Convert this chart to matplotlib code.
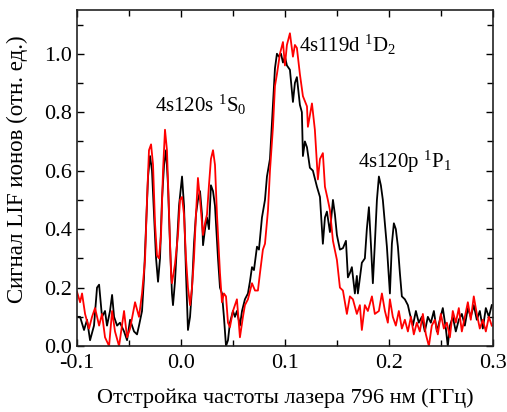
import numpy as np
import matplotlib
matplotlib.use('Agg')
import matplotlib.pyplot as plt
from matplotlib.ticker import MultipleLocator, FormatStrFormatter

plt.rcParams['font.family'] = ['Liberation Serif', 'DejaVu Serif']
plt.rcParams['mathtext.fontset'] = 'custom'
plt.rcParams['mathtext.rm'] = 'Liberation Serif'
plt.rcParams['mathtext.default'] = 'rm'
plt.rcParams['axes.unicode_minus'] = False

# (detuning GHz, LIF signal) - black trace
black = [
    (-0.1000, 0.10), (-0.0971, 0.10), (-0.0933, 0.055), (-0.0904, 0.09), (-0.0875, 0.02),
    (-0.0837, 0.07), (-0.0808, 0.20), (-0.0788, 0.21), (-0.0760, 0.10), (-0.0731, 0.12),
    (-0.0712, 0.07), (-0.0683, 0.12), (-0.0663, 0.175), (-0.0644, 0.10), (-0.0615, 0.07),
    (-0.0587, 0.08), (-0.0548, 0.05), (-0.0519, 0.02), (-0.0490, 0.09), (-0.0452, 0.05),
    (-0.0423, 0.04), (-0.0404, 0.07), (-0.0375, 0.12), (-0.0356, 0.235), (-0.0337, 0.40),
    (-0.0317, 0.58), (-0.0298, 0.65), (-0.0279, 0.60), (-0.0260, 0.45), (-0.0240, 0.30),
    (-0.0221, 0.22), (-0.0202, 0.30), (-0.0183, 0.50), (-0.0163, 0.62), (-0.0144, 0.67),
    (-0.0125, 0.55), (-0.0106, 0.35), (-0.0087, 0.18), (-0.0077, 0.14), (-0.0058, 0.22),
    (-0.0038, 0.35), (-0.0019, 0.48), (0.0010, 0.58), (0.0029, 0.48), (0.0048, 0.25),
    (0.0067, 0.055), (0.0087, 0.10), (0.0106, 0.20), (0.0125, 0.35), (0.0144, 0.45),
    (0.0163, 0.50), (0.0183, 0.53), (0.0202, 0.45), (0.0212, 0.345), (0.0231, 0.40),
    (0.0250, 0.44), (0.0269, 0.40), (0.0288, 0.55), (0.0308, 0.53), (0.0327, 0.48),
    (0.0356, 0.30), (0.0375, 0.20), (0.0394, 0.18), (0.0413, 0.10), (0.0433, 0.00),
    (0.0452, 0.02), (0.0471, 0.08), (0.0500, 0.12), (0.0519, 0.10), (0.0538, 0.12),
    (0.0567, 0.07), (0.0587, 0.12), (0.0615, 0.16), (0.0644, 0.18), (0.0663, 0.22),
    (0.0683, 0.27), (0.0702, 0.26), (0.0731, 0.34), (0.0750, 0.33), (0.0779, 0.44),
    (0.0808, 0.50), (0.0827, 0.58), (0.0856, 0.64), (0.0885, 0.83), (0.0904, 0.95),
    (0.0923, 1.00), (0.0942, 0.99), (0.0962, 1.00), (0.0981, 0.97), (0.1000, 0.99),
    (0.1019, 0.96), (0.1048, 0.945), (0.1077, 0.835), (0.1096, 0.90), (0.1115, 0.92),
    (0.1144, 0.825), (0.1163, 0.80), (0.1173, 0.65), (0.1192, 0.70), (0.1212, 0.68),
    (0.1240, 0.61), (0.1269, 0.60), (0.1308, 0.545), (0.1337, 0.51), (0.1365, 0.35),
    (0.1385, 0.44), (0.1404, 0.46), (0.1433, 0.39), (0.1462, 0.50), (0.1481, 0.45),
    (0.1500, 0.38), (0.1529, 0.33), (0.1558, 0.335), (0.1587, 0.36), (0.1606, 0.235),
    (0.1625, 0.25), (0.1644, 0.27), (0.1673, 0.18), (0.1692, 0.24), (0.1702, 0.18),
    (0.1740, 0.285), (0.1769, 0.30), (0.1788, 0.40), (0.1808, 0.475), (0.1827, 0.35),
    (0.1846, 0.215), (0.1865, 0.35), (0.1885, 0.50), (0.1904, 0.58), (0.1923, 0.55),
    (0.1942, 0.50), (0.1962, 0.42), (0.1981, 0.34), (0.2010, 0.18), (0.2029, 0.35),
    (0.2048, 0.42), (0.2067, 0.40), (0.2087, 0.34), (0.2106, 0.25), (0.2125, 0.17),
    (0.2154, 0.16), (0.2183, 0.14), (0.2202, 0.11), (0.2231, 0.07), (0.2260, 0.12),
    (0.2288, 0.08), (0.2317, 0.10), (0.2346, 0.05), (0.2375, 0.10), (0.2404, 0.08),
    (0.2433, 0.12), (0.2462, 0.05), (0.2490, 0.09), (0.2519, 0.13), (0.2548, 0.06),
    (0.2567, 0.00), (0.2587, 0.07), (0.2615, 0.10), (0.2644, 0.05), (0.2673, 0.09),
    (0.2702, 0.11), (0.2731, 0.07), (0.2760, 0.13), (0.2788, 0.10), (0.2817, 0.14),
    (0.2846, 0.09), (0.2875, 0.12), (0.2904, 0.06), (0.2933, 0.13), (0.2962, 0.10),
    (0.2990, 0.14),
]

# red trace
red = [
    (-0.1000, 0.185), (-0.0971, 0.15), (-0.0952, 0.18), (-0.0923, 0.11), (-0.0885, 0.06),
    (-0.0856, 0.10), (-0.0827, 0.13), (-0.0788, 0.07), (-0.0760, 0.11), (-0.0731, 0.03),
    (-0.0692, 0.00), (-0.0663, 0.12), (-0.0635, 0.05), (-0.0596, 0.00), (-0.0548, 0.12),
    (-0.0519, 0.03), (-0.0490, 0.06), (-0.0442, 0.15), (-0.0404, 0.10), (-0.0375, 0.18),
    (-0.0346, 0.295), (-0.0327, 0.50), (-0.0308, 0.67), (-0.0288, 0.69), (-0.0269, 0.62),
    (-0.0250, 0.42), (-0.0231, 0.31), (-0.0212, 0.30), (-0.0192, 0.38), (-0.0173, 0.60),
    (-0.0154, 0.74), (-0.0135, 0.67), (-0.0115, 0.45), (-0.0096, 0.25), (-0.0087, 0.215),
    (-0.0058, 0.28), (-0.0029, 0.38), (-0.0010, 0.50), (0.0010, 0.51), (0.0029, 0.45),
    (0.0048, 0.30), (0.0067, 0.20), (0.0087, 0.14), (0.0106, 0.20), (0.0125, 0.30),
    (0.0144, 0.45), (0.0163, 0.575), (0.0183, 0.50), (0.0202, 0.42), (0.0212, 0.38),
    (0.0231, 0.42), (0.0250, 0.45), (0.0269, 0.55), (0.0288, 0.64), (0.0308, 0.67),
    (0.0327, 0.62), (0.0346, 0.45), (0.0375, 0.25), (0.0394, 0.15), (0.0413, 0.18),
    (0.0433, 0.17), (0.0452, 0.08), (0.0471, 0.065), (0.0500, 0.12), (0.0538, 0.16),
    (0.0567, 0.03), (0.0596, 0.10), (0.0615, 0.14), (0.0644, 0.16), (0.0683, 0.215),
    (0.0712, 0.19), (0.0740, 0.19), (0.0760, 0.25), (0.0788, 0.33), (0.0808, 0.35),
    (0.0837, 0.465), (0.0856, 0.60), (0.0885, 0.75), (0.0904, 0.89), (0.0923, 0.93),
    (0.0952, 1.00), (0.0981, 1.04), (0.1000, 0.96), (0.1019, 1.03), (0.1048, 1.07),
    (0.1077, 0.99), (0.1096, 1.03), (0.1115, 1.02), (0.1144, 0.93), (0.1173, 0.855),
    (0.1212, 0.82), (0.1221, 0.75), (0.1260, 0.83), (0.1288, 0.74), (0.1317, 0.57),
    (0.1337, 0.64), (0.1365, 0.66), (0.1385, 0.545), (0.1413, 0.50), (0.1433, 0.465),
    (0.1462, 0.36), (0.1500, 0.295), (0.1529, 0.20), (0.1558, 0.19), (0.1596, 0.11),
    (0.1625, 0.17), (0.1654, 0.16), (0.1692, 0.11), (0.1721, 0.14), (0.1740, 0.055),
    (0.1769, 0.14), (0.1798, 0.12), (0.1837, 0.17), (0.1865, 0.11), (0.1904, 0.12),
    (0.1933, 0.18), (0.1962, 0.12), (0.1990, 0.08), (0.2010, 0.16), (0.2038, 0.10),
    (0.2067, 0.07), (0.2096, 0.12), (0.2125, 0.06), (0.2154, 0.09), (0.2183, 0.05),
    (0.2212, 0.10), (0.2240, 0.04), (0.2269, 0.08), (0.2298, 0.05), (0.2327, 0.11),
    (0.2356, 0.04), (0.2385, 0.00), (0.2413, 0.07), (0.2442, 0.09), (0.2471, 0.04),
    (0.2500, 0.11), (0.2529, 0.06), (0.2558, 0.08), (0.2587, 0.03), (0.2615, 0.12),
    (0.2644, 0.08), (0.2673, 0.13), (0.2702, 0.05), (0.2731, 0.10), (0.2760, 0.15),
    (0.2788, 0.09), (0.2817, 0.17), (0.2846, 0.11), (0.2875, 0.06), (0.2904, 0.09),
    (0.2933, 0.05), (0.2962, 0.10), (0.2990, 0.07),
]

xb, yb = np.array(black).T
xr, yr = np.array(red).T

fig = plt.figure(figsize=(5.07, 4.12), dpi=100)
ax = fig.add_axes([0.152, 0.160, 0.820, 0.816])

ax.plot(xb, yb, color='black', lw=1.3)
ax.plot(xr, yr, color='red', lw=1.3)

ax.set_xlim(-0.1, 0.3)
ax.set_ylim(0, 1.15)
ax.xaxis.set_major_locator(MultipleLocator(0.1))
ax.xaxis.set_minor_locator(MultipleLocator(0.05))
ax.yaxis.set_major_locator(MultipleLocator(0.2))
ax.yaxis.set_minor_locator(MultipleLocator(0.1))
ax.xaxis.set_major_formatter(FormatStrFormatter('%.1f'))
ax.yaxis.set_major_formatter(FormatStrFormatter('%.1f'))
ax.tick_params(which='both', direction='in', top=True, right=True, labelsize=16)
ax.tick_params(axis='x', which='major', pad=6)
ax.tick_params(which='major', length=5, width=1)
ax.tick_params(which='minor', length=4, width=1)
for s in ax.spines.values():
    s.set_linewidth(1.2)
    s.set_color('#222222')

ax.set_xlabel('Отстройка частоты лазера 796 нм (ГГц)', fontsize=16, labelpad=11)
ax.set_ylabel('Сигнал LIF ионов (отн. ед.)', fontsize=16.5)
ax.yaxis.set_label_coords(-0.118, 0.527)

ax.text(-0.025, 0.80, '4s120s $^1$S$_0$', fontsize=15)
ax.text(0.114, 1.005, '4s119d $^1$D$_2$', fontsize=15)
ax.text(0.170, 0.61, '4s120p $^1$P$_1$', fontsize=15)

plt.savefig('out.png', dpi=100)
